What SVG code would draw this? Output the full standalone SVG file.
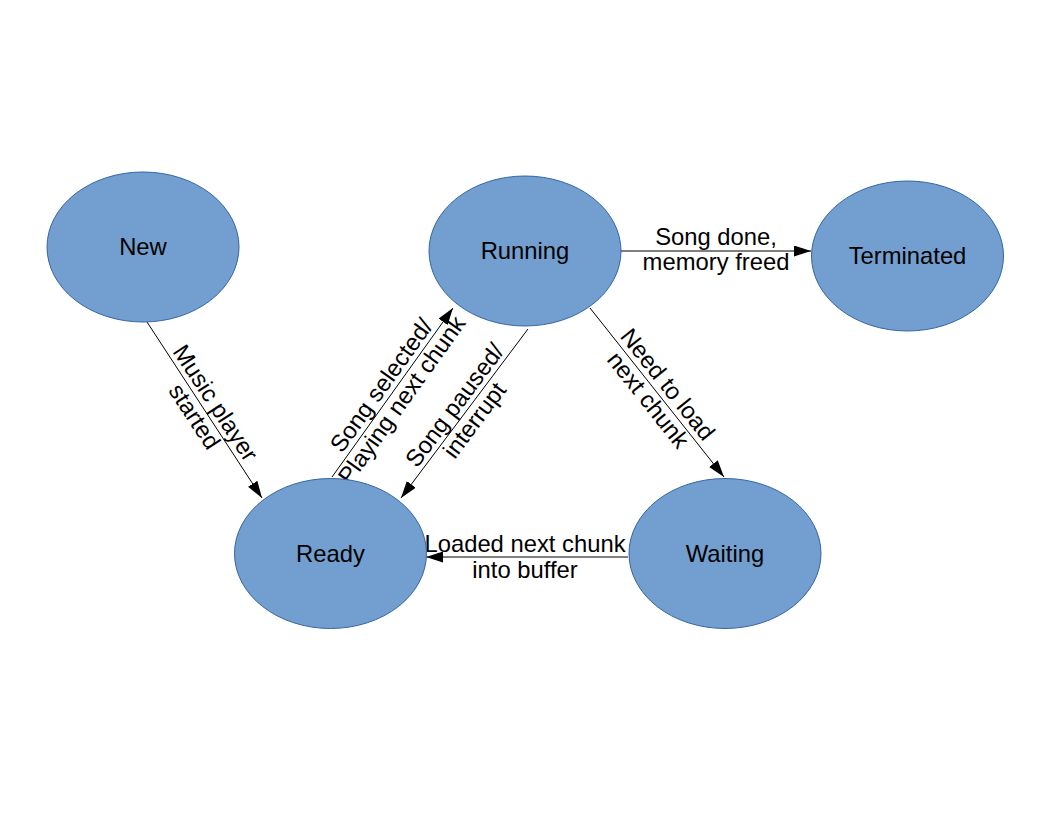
<svg xmlns="http://www.w3.org/2000/svg" width="1056" height="816" viewBox="0 0 1056 816">
<defs>
<marker id="arr" markerUnits="userSpaceOnUse" markerWidth="18" markerHeight="12" refX="17" refY="5.5" orient="auto">
<path d="M0,0 L17,5.5 L0,11 z" fill="#000"/>
</marker>
<style>
.node{fill:#729fcf;stroke:#3465a4;stroke-width:1}
.t{font-family:"Liberation Sans",Arial,sans-serif;font-size:23.8px;fill:#000;text-anchor:middle}
.c{stroke:#000;stroke-width:1;fill:none;marker-end:url(#arr)}
</style>
</defs>
<rect width="1056" height="816" fill="#fff"/>
<g id="connectors">
<line class="c" x1="147" y1="322" x2="262" y2="498"/>
<line class="c" x1="332" y1="477" x2="453" y2="308"/>
<line class="c" x1="528" y1="329" x2="401" y2="498"/>
<line class="c" x1="590" y1="308" x2="724" y2="477"/>
<line class="c" x1="621" y1="251" x2="811" y2="251"/>
<line class="c" x1="628" y1="557" x2="426" y2="557"/>
</g>
<g id="labels">
<g transform="translate(204.5,410) rotate(56.8)"><text class="t" y="-5">Music player</text><text class="t" y="20">started</text></g>
<g transform="translate(392,393) rotate(-54.4)"><text class="t" y="-5">Song selected/</text><text class="t" y="20">Playing next chunk</text></g>
<g transform="translate(465,413) rotate(-53.1)"><text class="t" y="-5">Song paused/</text><text class="t" y="20">interrupt</text></g>
<g transform="translate(657.5,392.5) rotate(51.4)"><text class="t" y="-5">Need to load</text><text class="t" y="20">next chunk</text></g>
<g transform="translate(716,251)"><text class="t" y="-6">Song done,</text><text class="t" y="19">memory freed</text></g>
<g transform="translate(525,557)"><text class="t" y="-5">Loaded next chunk</text><text class="t" y="21">into buffer</text></g>
</g>
<g id="node-new"><ellipse class="node" cx="143" cy="247" rx="96" ry="75"/><text class="t" x="143" y="255">New</text></g>
<g id="node-running"><ellipse class="node" cx="525" cy="251" rx="96" ry="75"/><text class="t" x="525" y="259">Running</text></g>
<g id="node-terminated"><ellipse class="node" cx="907.5" cy="256" rx="96" ry="75"/><text class="t" x="907.5" y="264">Terminated</text></g>
<g id="node-ready"><ellipse class="node" cx="330.5" cy="553.5" rx="96" ry="75"/><text class="t" x="330.5" y="562">Ready</text></g>
<g id="node-waiting"><ellipse class="node" cx="725" cy="553.5" rx="96" ry="75"/><text class="t" x="725" y="562">Waiting</text></g>
</svg>
